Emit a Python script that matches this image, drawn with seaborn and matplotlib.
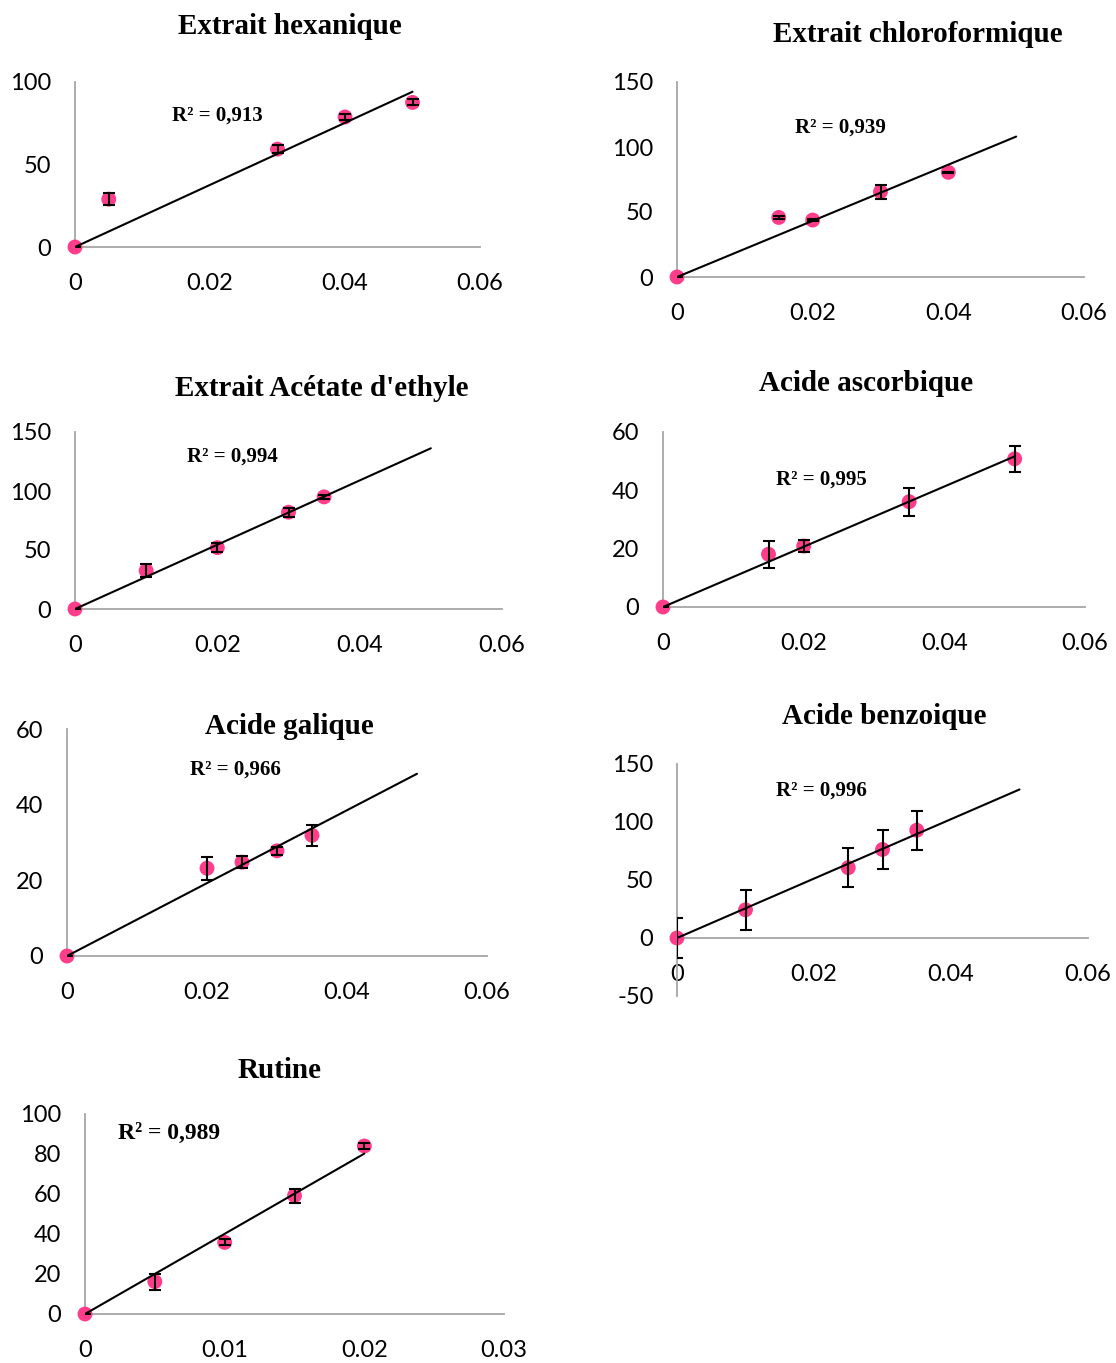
import numpy as np
import pandas as pd
import matplotlib
matplotlib.use("Agg")
import matplotlib.pyplot as plt
from matplotlib.ticker import FuncFormatter
import seaborn as sns

# data (x = concentration, y = % inhibition)
titles = ["Extrait hexanique", "Extrait chloroformique", "Extrait Acétate d'ethyle",
          "Acide ascorbique", "Acide galique", "Acide benzoique", "Rutine"]

conc = [
    [0, 0.005, 0.03, 0.04, 0.05],
    [0, 0.015, 0.02, 0.03, 0.04],
    [0, 0.01, 0.02, 0.03, 0.035],
    [0, 0.015, 0.02, 0.035, 0.05],
    [0, 0.02, 0.025, 0.03, 0.035],
    [0, 0.01, 0.025, 0.03, 0.035],
    [0, 0.005, 0.01, 0.015, 0.02],
]
inhib = [
    [0, 29, 59.3, 78.8, 87.6],
    [0, 45.8, 43.8, 65.6, 80.5],
    [0, 32.5, 52, 82, 95],
    [0, 18.1, 20.9, 36.1, 50.8],
    [0, 23.2, 24.8, 27.8, 31.9],
    [0, 24.3, 60.6, 76.3, 92.9],
    [0, 16.2, 35.8, 59.2, 84],
]
sd = [
    [0, 3.8, 2.5, 1.8, 1.8],
    [0, 1.5, 0.5, 5.5, 0.5],
    [0, 5.5, 4, 4, 2],
    [0, 4.6, 2.2, 4.8, 4.4],
    [0, 3, 1.5, 1, 2.7],
    [17, 17, 17, 17, 17],
    [0, 4, 1.5, 3.5, 1.5],
]
r2 = [0.913, 0.939, 0.994, 0.995, 0.966, 0.996, 0.989]
line_end = [0.05, 0.05, 0.05, 0.05, 0.05, 0.05, 0.02]
ylims = [(0, 100), (0, 150), (0, 150), (0, 60), (0, 60), (-50, 150), (0, 100)]
yticks = [[0, 50, 100], [0, 50, 100, 150], [0, 50, 100, 150], [0, 20, 40, 60],
          [0, 20, 40, 60], [-50, 0, 50, 100, 150], [0, 20, 40, 60, 80, 100]]
xmax = [0.06, 0.06, 0.06, 0.06, 0.06, 0.06, 0.03]

W, H = 1116, 1363
# axes boxes in pixels: left, right, top, bottom
boxes = [(75, 480, 82, 247), (677, 1084, 82, 277), (75, 502, 432, 609),
         (663, 1085, 432, 607), (67, 487, 729, 956), (677, 1088, 764, 996),
         (85, 504, 1114, 1314)]
title_pos = [(290, 27), (918, 35), (322, 388), (866, 383), (289, 727), (884, 716), (280, 1071)]
r2_pos = [(172, 116), (795, 128), (187, 457), (776, 480), (190, 770), (776, 791), (118, 1133)]
r2_size = [15, 15, 15, 15, 15, 15, 17]

sns.set_style("white")
plt.rcParams['font.family'] = ['Lato', 'DejaVu Sans']
plt.rcParams['axes.unicode_minus'] = False

pink = "#FF3D8B"
grey = "#A6A6A6"

fig = plt.figure(figsize=(W / 100, H / 100), dpi=100)

for i in range(7):
    l, r, t, b = boxes[i]
    ax = fig.add_axes([l / W, 1 - b / H, (r - l) / W, (b - t) / H])
    x = np.array(conc[i])
    y = np.array(inhib[i])
    df = pd.DataFrame({"x": x, "y": y})

    # trend line through origin
    slope = np.sum(x * y) / np.sum(x * x)
    xs = np.array([0, line_end[i]])
    sns.lineplot(x=xs, y=slope * xs, ax=ax, color="black", lw=1.5, zorder=4)

    sns.scatterplot(data=df, x="x", y="y", ax=ax, color=pink, s=115,
                    edgecolor="none", zorder=3, clip_on=False)
    ax.errorbar(x, y, yerr=sd[i], fmt="none", ecolor="black",
                elinewidth=1.5, capsize=4.5, capthick=1.5, zorder=5)

    ax.set_xlim(0, xmax[i])
    ax.set_ylim(*ylims[i])
    ax.set_xticks(np.linspace(0, xmax[i], 4))
    ax.set_yticks(yticks[i])
    ax.xaxis.set_major_formatter(FuncFormatter(lambda v, p: f"{v:g}"))
    ax.set_xlabel("")
    ax.set_ylabel("")
    ax.set_facecolor("none")

    sns.despine(ax=ax)
    for s in ["left", "bottom"]:
        ax.spines[s].set_color(grey)
        ax.spines[s].set_linewidth(1.3)
    if ylims[i][0] < 0:
        ax.spines["bottom"].set_position(("data", 0))
    ax.tick_params(axis="both", direction="out", length=5, width=1.3,
                   color=grey, labelsize=17, labelcolor="black")
    ax.tick_params(axis="x", pad=14)
    ax.tick_params(axis="y", pad=12)

    fig.text(title_pos[i][0] / W, 1 - title_pos[i][1] / H, titles[i],
             ha="center", va="center", fontsize=21, fontweight="bold",
             family="Liberation Serif", color="black")
    fig.text(r2_pos[i][0] / W, 1 - r2_pos[i][1] / H,
             "R² = " + f"{r2[i]:.3f}".replace(".", ","),
             ha="left", va="center", fontsize=r2_size[i], fontweight="bold",
             family="Liberation Serif", color="black")

fig.savefig("out.png", dpi=100)
